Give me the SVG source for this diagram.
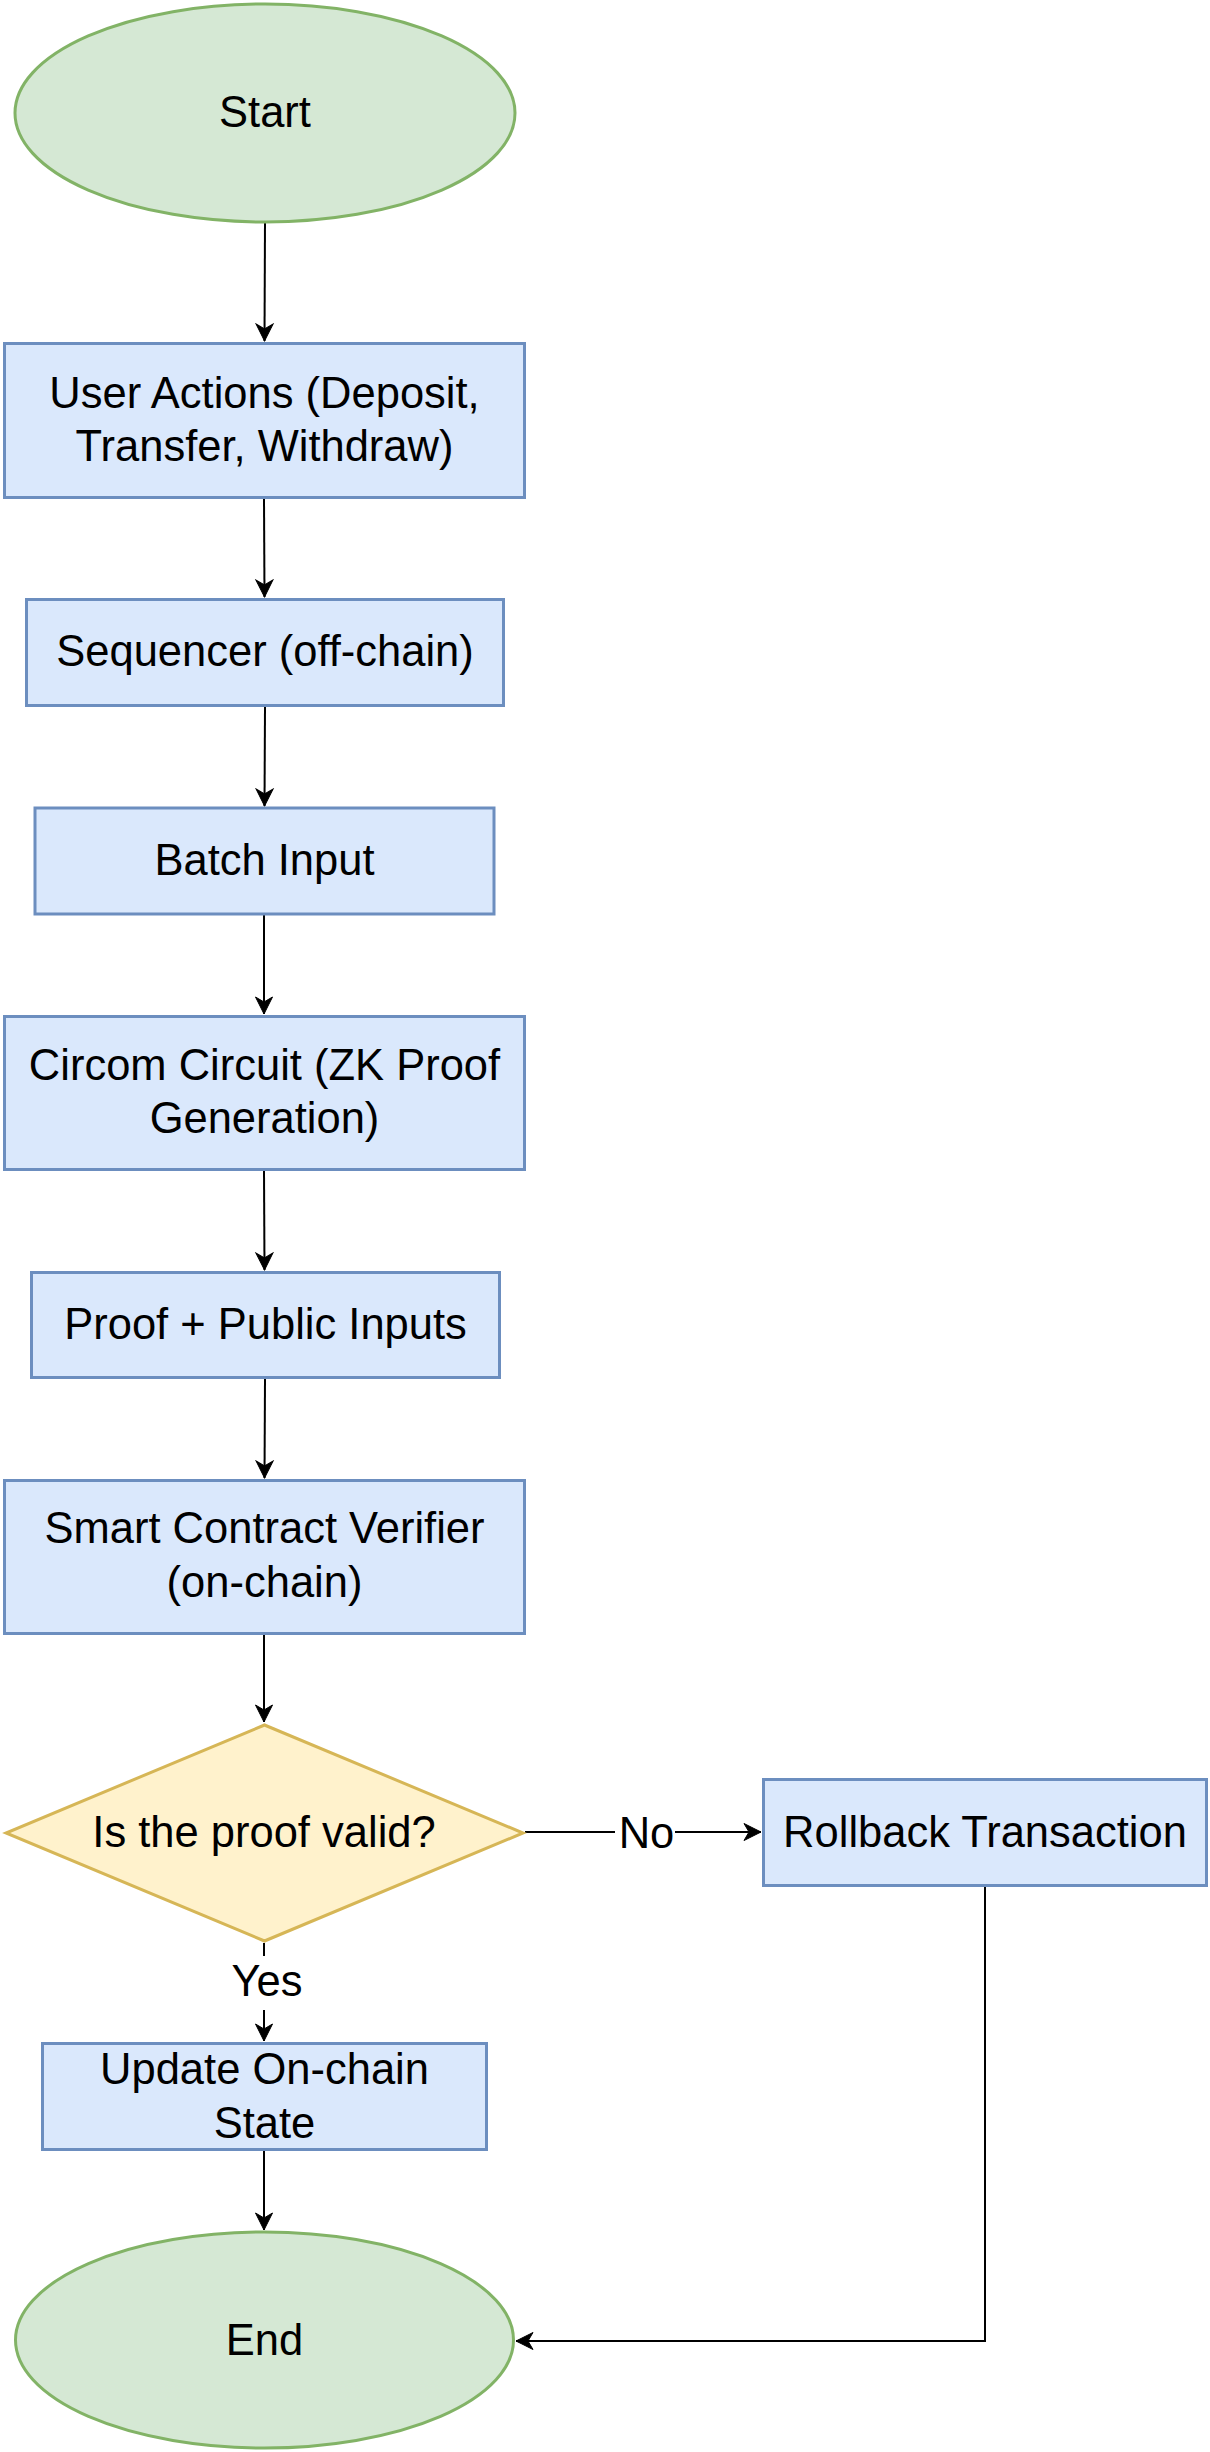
<svg xmlns="http://www.w3.org/2000/svg" width="1210" height="2452" viewBox="0 0 1210 2452">
<style>
.term{fill:#d5e8d4;stroke:#82b366;stroke-width:3}
.proc{fill:#dae8fc;stroke:#6c8ebf;stroke-width:3}
.dec{fill:#fff2cc;stroke:#d6b656;stroke-width:3}
.lbl{font-family:"Liberation Sans",Arial,Helvetica,sans-serif;font-size:43.5px;fill:#000;text-anchor:middle}
.edge{fill:none;stroke:#000;stroke-width:2}
.bg{fill:#fff}
</style>
<defs>
<marker id="arr" markerUnits="userSpaceOnUse" viewBox="-18 -10 20 20" refX="0" refY="0" markerWidth="20" markerHeight="20" orient="auto">
<path d="M0,0 L-17,-8.5 L-12,0 L-17,8.5 Z" fill="#000" stroke="#000" stroke-width="1"/>
</marker>
</defs>
<g id="connectors">
<path class="edge" d="M265,222 L264.5,341" marker-end="url(#arr)"/>
<path class="edge" d="M264,499 L264.5,597" marker-end="url(#arr)"/>
<path class="edge" d="M265,707 L264.5,806" marker-end="url(#arr)"/>
<path class="edge" d="M264,915 L264,1014" marker-end="url(#arr)"/>
<path class="edge" d="M264,1171 L264.5,1270" marker-end="url(#arr)"/>
<path class="edge" d="M265,1379 L264.5,1478" marker-end="url(#arr)"/>
<path class="edge" d="M264,1635 L264,1722" marker-end="url(#arr)"/>
<path class="edge" d="M264,1943 L264,2041" marker-end="url(#arr)"/>
<path class="edge" d="M264,2151 L264,2230" marker-end="url(#arr)"/>
<path class="edge" d="M525,1832 L761,1832" marker-end="url(#arr)"/>
<path class="edge" d="M985,1887 L985,2341 L516,2341" marker-end="url(#arr)"/>
<rect class="bg" x="615" y="1808" width="60" height="48"/>
<text class="lbl" x="646.5" y="1848">No</text>
<rect class="bg" x="236" y="1956" width="60" height="54"/>
<text class="lbl" x="267" y="1996">Yes</text>
</g>
<g id="start">
<ellipse class="term" cx="265" cy="113" rx="250" ry="109"/>
<text class="lbl" x="265" y="127">Start</text>
</g>
<g id="user-actions">
<rect class="proc" x="4.5" y="343.5" width="520" height="154"/>
<text class="lbl" x="264.5" y="408">User Actions (Deposit,</text>
<text class="lbl" x="264.5" y="461">Transfer, Withdraw)</text>
</g>
<g id="sequencer">
<rect class="proc" x="26.5" y="599.5" width="477" height="106"/>
<text class="lbl" x="265" y="666">Sequencer (off-chain)</text>
</g>
<g id="batch-input">
<rect class="proc" x="35" y="808" width="459" height="106"/>
<text class="lbl" x="264.5" y="875">Batch Input</text>
</g>
<g id="circom">
<rect class="proc" x="4.5" y="1016.5" width="520" height="153"/>
<text class="lbl" x="264.5" y="1080">Circom Circuit (ZK Proof</text>
<text class="lbl" x="264.5" y="1133">Generation)</text>
</g>
<g id="proof">
<rect class="proc" x="31.5" y="1272.5" width="468" height="105"/>
<text class="lbl" x="265.5" y="1339">Proof + Public Inputs</text>
</g>
<g id="verifier">
<rect class="proc" x="4.5" y="1480.5" width="520" height="153"/>
<text class="lbl" x="264.5" y="1543">Smart Contract Verifier</text>
<text class="lbl" x="264.5" y="1597">(on-chain)</text>
</g>
<g id="decision">
<polygon class="dec" points="264.5,1725 523,1833 264.5,1941 6,1833"/>
<text class="lbl" x="264" y="1847">Is the proof valid?</text>
</g>
<g id="rollback">
<rect class="proc" x="763.5" y="1779.5" width="443" height="106"/>
<text class="lbl" x="985" y="1847">Rollback Transaction</text>
</g>
<g id="update">
<rect class="proc" x="42.5" y="2043.5" width="444" height="106"/>
<text class="lbl" x="264.5" y="2084">Update On-chain</text>
<text class="lbl" x="264.5" y="2138">State</text>
</g>
<g id="end">
<ellipse class="term" cx="264.5" cy="2340" rx="249" ry="108"/>
<text class="lbl" x="264.5" y="2355">End</text>
</g>
</svg>
